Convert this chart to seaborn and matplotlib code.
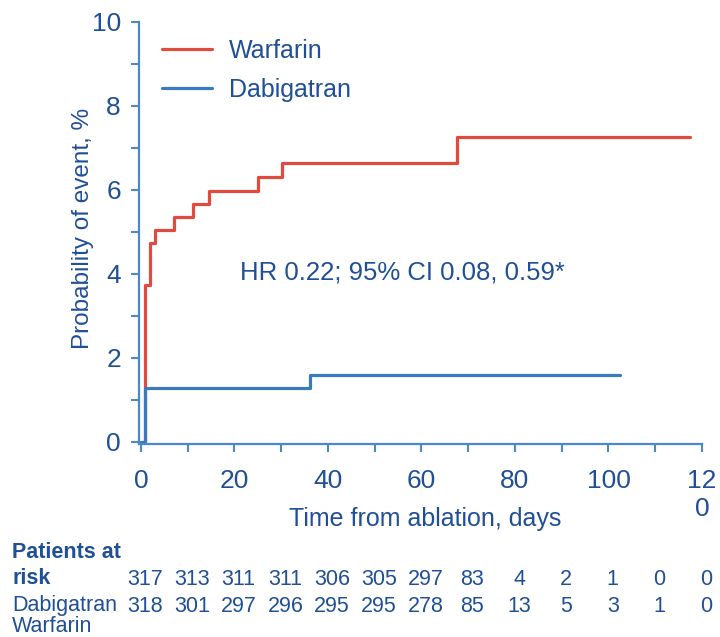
import numpy as np
import pandas as pd
import matplotlib
matplotlib.use("Agg")
import matplotlib.pyplot as plt
import seaborn as sns

# Kaplan-Meier style step curves
warfarin_days = [0, 0.9, 2.0, 3.1, 7.0, 11.1, 14.5, 25.1, 30.2, 67.6, 117.5]
warfarin_prob = [0, 3.73, 4.73, 5.04, 5.34, 5.66, 5.97, 6.30, 6.63, 7.25, 7.25]
dabigatran_days = [0, 0.9, 36.2, 102.5]
dabigatran_prob = [0, 1.28, 1.59, 1.59]

arms = ["Warfarin", "Dabigatran"]
arm_colors = ["#E04B3D", "#3A7BBE"]

# patients at risk table
risk_days = [0, 10, 20, 30, 40, 50, 60, 70, 80, 90, 100, 110, 120]
risk_dabigatran = [317, 313, 311, 311, 306, 305, 297, 83, 4, 2, 1, 0, 0]
risk_warfarin = [318, 301, 297, 296, 295, 295, 278, 85, 13, 5, 3, 1, 0]

x_ticks = [0, 10, 20, 30, 40, 50, 60, 70, 80, 90, 100, 110, 120]
x_ticklabels = ["0", "", "20", "", "40", "", "60", "", "80", "", "100", "", "12\n0"]
y_major = [0, 2, 4, 6, 8, 10]
y_minor = [1, 3, 5, 7, 9]

hr_text = "HR 0.22; 95% CI 0.08, 0.59*"

TEXT = "#1F4F96"
AXIS = "#4A88C6"

sns.set_theme(style="white")
plt.rcParams["font.family"] = ["Liberation Sans", "DejaVu Sans"]

df = pd.concat([
    pd.DataFrame({"day": warfarin_days, "prob": warfarin_prob, "arm": "Warfarin"}),
    pd.DataFrame({"day": dabigatran_days, "prob": dabigatran_prob, "arm": "Dabigatran"}),
], ignore_index=True)

fig = plt.figure(figsize=(7.2, 6.37), dpi=100)
ax = fig.add_axes([139 / 720, 1 - 444.2 / 637, 563 / 720, 422.5 / 637])

sns.lineplot(data=df, x="day", y="prob", hue="arm", hue_order=arms,
             palette=dict(zip(arms, arm_colors)), drawstyle="steps-post",
             estimator=None, sort=False, linewidth=2.3, ax=ax)

ax.set_xlim(-0.4, 120)
ax.set_ylim(-0.06, 10)

for side in ["top", "right"]:
    ax.spines[side].set_visible(False)
for side in ["left", "bottom"]:
    ax.spines[side].set_color(AXIS)
    ax.spines[side].set_linewidth(1.6)

ax.set_xticks(x_ticks)
ax.set_xticklabels(x_ticklabels, linespacing=1.2)
ax.set_yticks(y_major)
ax.set_yticks(y_minor, minor=True)
ax.tick_params(axis="both", which="both", direction="out", length=6,
               width=1.5, color=AXIS, labelcolor=TEXT, labelsize=19,
               left=True, bottom=True)
ax.tick_params(axis="x", pad=12)
ax.tick_params(axis="y", pad=7)

ax.set_xlabel("Time from ablation, days", fontsize=18, color=TEXT)
ax.xaxis.set_label_coords(0.508, -0.149)
ax.set_ylabel("Probability of event, %", fontsize=17.5, color=TEXT)
ax.yaxis.set_label_coords(-0.08, 0.51)

handles, labels = ax.get_legend_handles_labels()
leg = ax.legend(handles, labels, loc="upper left", bbox_to_anchor=(0.04, 0.96),
                frameon=False, fontsize=18, handlelength=2.0, handletextpad=0.7,
                labelspacing=0.62, borderpad=0, borderaxespad=0)
for t in leg.get_texts():
    t.set_color(TEXT)
for h in leg.get_lines():
    h.set_linewidth(2.3)

ax.text(21.2, 4.04, hr_text, fontsize=18.5, color=TEXT, ha="left", va="center")

# patients at risk table
xt = ax.get_xaxis_transform()
for d, n in zip(risk_days, risk_dabigatran):
    ax.text(d + 0.9, -0.321, str(n), transform=xt, ha="center", va="center",
            fontsize=15.5, color=TEXT, clip_on=False)
for d, n in zip(risk_days, risk_warfarin):
    ax.text(d + 0.9, -0.383, str(n), transform=xt, ha="center", va="center",
            fontsize=15.5, color=TEXT, clip_on=False)

fig.text(12 / 720, 1 - 552 / 637, "Patients at", fontsize=15.5, fontweight="bold",
         color=TEXT, ha="left", va="center")
fig.text(12 / 720, 1 - 579 / 637, "risk", fontsize=15.5, fontweight="bold",
         color=TEXT, ha="left", va="center")
fig.text(12 / 720, 1 - 605 / 637, "Dabigatran", fontsize=15.5,
         color=TEXT, ha="left", va="center")
fig.text(12 / 720, 1 - 627 / 637, "Warfarin", fontsize=15.5,
         color=TEXT, ha="left", va="center")

fig.savefig("out.png", dpi=100)
